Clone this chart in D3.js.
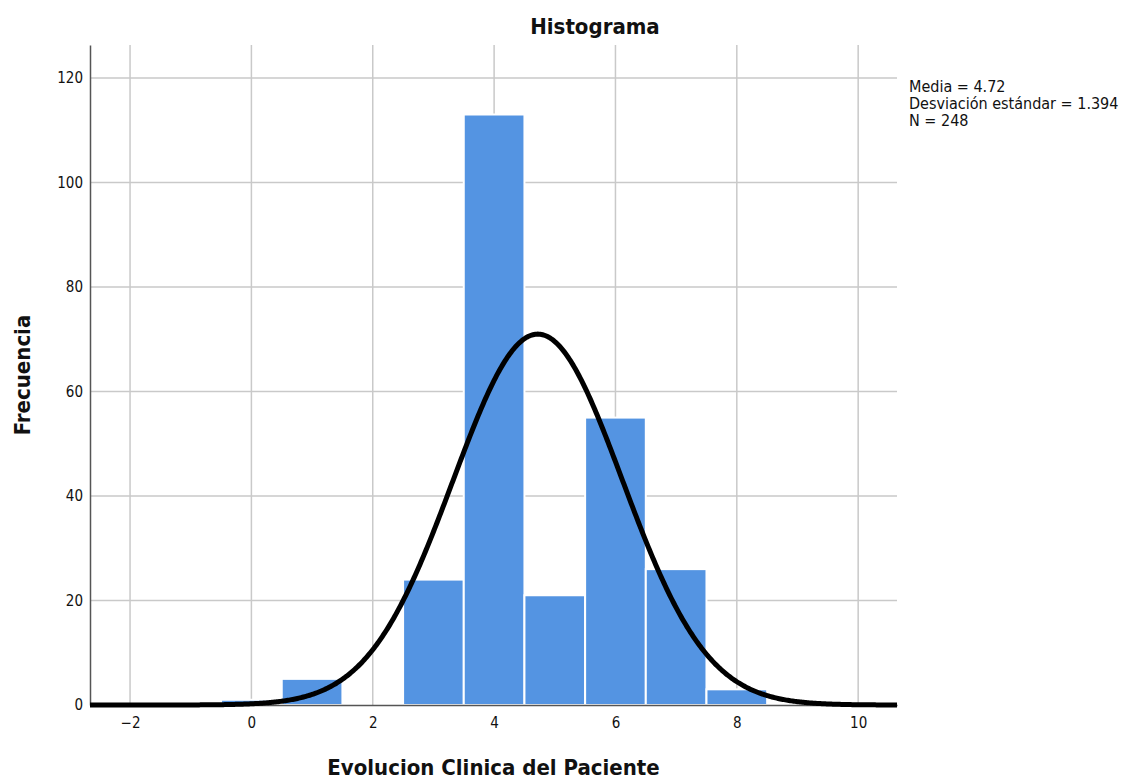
<!DOCTYPE html>
<html>
<head>
<meta charset="utf-8">
<script src="https://cdn.jsdelivr.net/npm/d3@7"></script>
<style>
  html, body { margin: 0; padding: 0; background: #fff; }
  svg { display: block; }
  text { font-family: "DejaVu Sans Condensed", "Liberation Sans", sans-serif; fill: #111; }
</style>
</head>
<body>
<svg id="chart" width="1130" height="781"></svg>
<script>
// Histogram bins (centre of each unit-wide bin) and their frequencies
const binCenters = [0, 1, 2, 3, 4, 5, 6, 7, 8];
const frequencies = [1, 5, 0, 24, 113, 21, 55, 26, 3];
const xTicks = [-2, 0, 2, 4, 6, 8, 10];
const yTicks = [0, 20, 40, 60, 80, 100, 120];
const meanValue = 4.72;
const sdValue = 1.394;
const nValue = 248;
const binWidth = 1;

const svg = d3.select("#chart");
const margin = { left: 90, right: 233, top: 45, bottom: 76 };
const W = 1130, H = 781;

const x = d3.scaleLinear().domain([-2.66, 10.64]).range([margin.left, W - margin.right]);
const y = d3.scaleLinear().domain([0, 126.3]).range([H - margin.bottom, margin.top]);

// Grid lines
const grid = svg.append("g").attr("stroke", "#c9c9c9").attr("stroke-width", 1.5);
grid.selectAll("line.v").data(xTicks).join("line")
  .attr("x1", d => x(d)).attr("x2", d => x(d))
  .attr("y1", y.range()[1]).attr("y2", y.range()[0]);
grid.selectAll("line.h").data(yTicks.filter(d => d > 0)).join("line")
  .attr("x1", x.range()[0]).attr("x2", x.range()[1])
  .attr("y1", d => y(d)).attr("y2", d => y(d));

// Bars
svg.append("g").selectAll("rect").data(binCenters.map((c, i) => ({ c, f: frequencies[i] })).filter(d => d.f > 0))
  .join("rect")
  .attr("x", d => x(d.c - binWidth / 2))
  .attr("width", d => x(d.c + binWidth / 2) - x(d.c - binWidth / 2))
  .attr("y", d => y(d.f))
  .attr("height", d => y(0) - y(d.f))
  .attr("fill", "#5494e2")
  .attr("stroke", "#ffffff")
  .attr("stroke-width", 2);

// Axes
const xAxis = d3.axisBottom(x).tickValues(xTicks).tickSize(0).tickPadding(12)
  .tickFormat(d => d < 0 ? "\u2212" + Math.abs(d) : d);
const gx = svg.append("g").attr("transform", `translate(0,${y(0)})`).call(xAxis);
gx.select(".domain").attr("stroke", "#555").attr("stroke-width", 1.5);
gx.selectAll("text").attr("font-size", 15).attr("fill", "#222");

const yAxis = d3.axisLeft(y).tickValues(yTicks).tickSize(0).tickPadding(7);
const gy = svg.append("g").attr("transform", `translate(${x.range()[0]},0)`).call(yAxis);
gy.select(".domain").attr("stroke", "#555").attr("stroke-width", 1.5);
gy.selectAll("text").attr("font-size", 15).attr("fill", "#222");

// Normal curve scaled to the histogram
const norm = v => nValue * binWidth / (sdValue * Math.sqrt(2 * Math.PI)) *
  Math.exp(-0.5 * Math.pow((v - meanValue) / sdValue, 2));
const curveX = d3.range(x.domain()[0], x.domain()[1] + 0.001, 0.02);
svg.append("path")
  .datum(curveX)
  .attr("fill", "none")
  .attr("stroke", "#000")
  .attr("stroke-width", 5)
  .attr("d", d3.line().x(d => x(d)).y(d => y(norm(d))));

// Title and axis labels
svg.append("text").attr("x", 595).attr("y", 34).attr("text-anchor", "middle")
  .attr("font-size", 22).attr("font-weight", "bold").text("Histograma");
svg.append("text").attr("x", (x.range()[0] + x.range()[1]) / 2).attr("y", 775).attr("text-anchor", "middle")
  .attr("font-size", 22).attr("font-weight", "bold").text("Evolucion Clinica del Paciente");
svg.append("text").attr("transform", "translate(30,375) rotate(-90)").attr("text-anchor", "middle")
  .attr("font-size", 22).attr("font-weight", "bold").text("Frecuencia");

// Summary statistics
const stats = [`Media = ${meanValue}`, `Desviación estándar = ${sdValue}`, `N = ${nValue}`];
svg.append("g").selectAll("text").data(stats).join("text")
  .attr("x", 909).attr("y", (d, i) => 92 + i * 17)
  .attr("font-size", 16).attr("fill", "#111").text(d => d);
</script>
</body>
</html>
